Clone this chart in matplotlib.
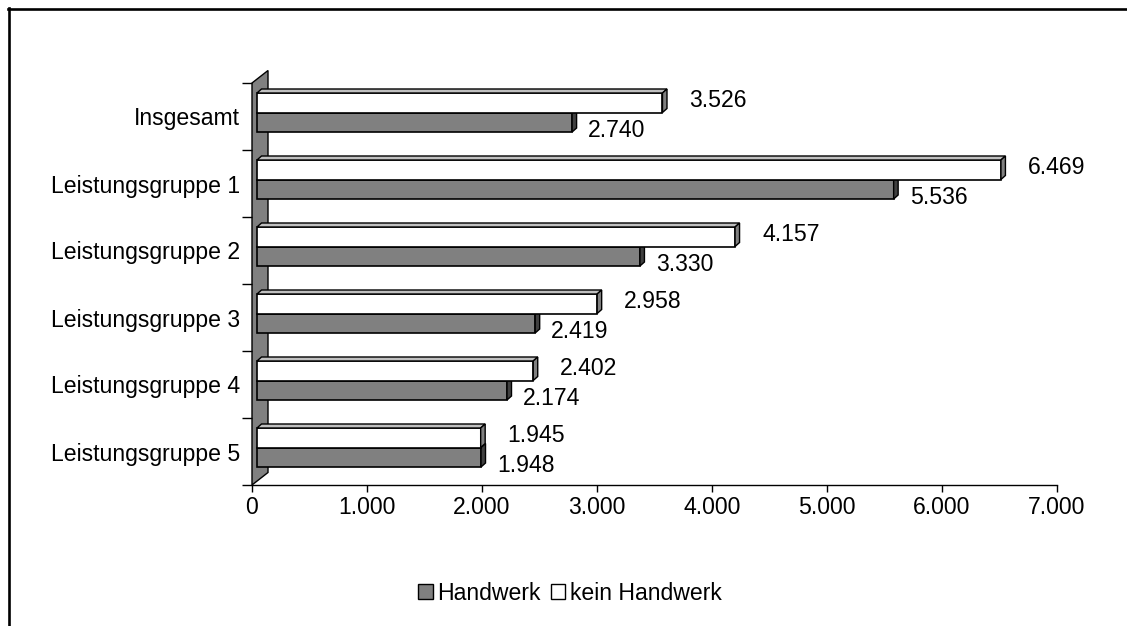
import matplotlib
matplotlib.use('Agg')
import matplotlib.pyplot as plt
import numpy as np
from matplotlib.patches import Polygon, Patch
from matplotlib.lines import Line2D

plt.rcParams['font.family'] = ['Liberation Sans', 'DejaVu Sans']

categories = ['Insgesamt', 'Leistungsgruppe 1', 'Leistungsgruppe 2',
              'Leistungsgruppe 3', 'Leistungsgruppe 4', 'Leistungsgruppe 5']
handwerk = [2740, 5536, 3330, 2419, 2174, 1948]
kein_handwerk = [3526, 6469, 4157, 2958, 2402, 1945]
x_ticks = [0, 1000, 2000, 3000, 4000, 5000, 6000, 7000]


def de_fmt(v):
    return f'{v:,.0f}'.replace(',', '.')


W, H = 1127, 626
fig = plt.figure(figsize=(W / 100, H / 100), dpi=100)
ax = fig.add_axes([252 / W, 1 - 485 / H, 805 / W, 402 / H])
ax.set_xlim(0, 7000)
ax.set_ylim(0, 6)

# pixel -> data unit helpers
px_x = 7000 / 805
px_y = 6 / 402

fs = 16.6
grey = '#808080'

# back wall
wd_x, wd_y = 16 * px_x, 12.5 * px_y
wall = Polygon([(0, 0), (wd_x, wd_y), (wd_x, 6 + wd_y), (0, 6)],
               closed=True, facecolor=grey, edgecolor='black', lw=1.0,
               clip_on=False, zorder=1)
ax.add_patch(wall)

n = len(categories)
centers = np.array([n - 0.5 - i for i in range(n)])
x0 = 5 * px_x
bh = 19.5 * px_y
mid = centers + 4 * px_y
dx, dy = 4.5 * px_x, 4 * px_y


def bar3d(y0, v, face, top, side):
    ax.barh(y0, v, height=bh, left=x0, align='edge', color=face,
            edgecolor='black', lw=1.2, clip_on=False, zorder=3)
    ax.add_patch(Polygon([(x0, y0 + bh), (x0 + v, y0 + bh),
                          (x0 + v + dx, y0 + bh + dy), (x0 + dx, y0 + bh + dy)],
                         closed=True, facecolor=top, edgecolor='black', lw=1.0,
                         clip_on=False, zorder=3))
    ax.add_patch(Polygon([(x0 + v, y0), (x0 + v + dx, y0 + dy),
                          (x0 + v + dx, y0 + bh + dy), (x0 + v, y0 + bh)],
                         closed=True, facecolor=side, edgecolor='black', lw=1.0,
                         clip_on=False, zorder=3))


for i in range(n):
    bar3d(mid[i] - bh, handwerk[i], grey, '#a0a0a0', '#404040')
    bar3d(mid[i], kein_handwerk[i], 'white', '#c0c0c0', grey)
    ax.text(x0 + kein_handwerk[i] + 27 * px_x, mid[i] + bh / 2 + 2 * px_y,
            de_fmt(kein_handwerk[i]), fontsize=fs, va='center', ha='left')
    ax.text(x0 + handwerk[i] + 16 * px_x, mid[i] - bh / 2 - 8 * px_y,
            de_fmt(handwerk[i]), fontsize=fs, va='center', ha='left')

# axes styling
for s in ['top', 'right']:
    ax.spines[s].set_visible(False)
ax.spines['left'].set_visible(False)
ax.spines['bottom'].set_linewidth(1.0)
ax.set_xticks(x_ticks)
ax.set_xticklabels([de_fmt(t) for t in x_ticks], fontsize=fs)
ax.tick_params(axis='x', direction='out', length=5, width=1.0, pad=3)

ax.set_yticks(np.arange(0, n + 1))
ax.set_yticklabels([])
ax.tick_params(axis='y', which='major', direction='out', length=7, width=1.0)
ax.set_yticks(centers, minor=True)
ax.set_yticklabels(categories, minor=True, fontsize=fs)
ax.tick_params(axis='y', which='minor', length=0, pad=8.6)
ax.patch.set_visible(False)

# legend
handles = [Patch(facecolor=grey, edgecolor='black', lw=1.0),
           Patch(facecolor='white', edgecolor='black', lw=1.0)]
fig.legend(handles, ['Handwerk', 'kein Handwerk'], loc='center',
           bbox_to_anchor=(570 / W, 1 - 593 / H), ncol=2, frameon=False,
           fontsize=fs, handlelength=0.62, handleheight=0.62,
           handletextpad=0.2, columnspacing=0.45)

# outer frame (left and top edges only)
fig.add_artist(Line2D([8.5 / W, 8.5 / W], [0, 1 - 8 / H], color='black', lw=1.9))
fig.add_artist(Line2D([8 / W, 1], [1 - 8.5 / H, 1 - 8.5 / H], color='black', lw=1.9))

fig.savefig('out.png', dpi=100)
